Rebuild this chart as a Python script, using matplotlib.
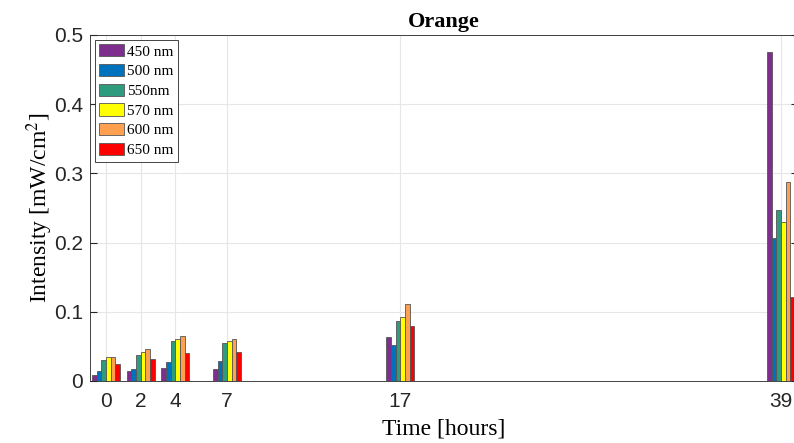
import matplotlib.pyplot as plt
import numpy as np

# Datos
hours = [0, 2, 4, 7, 17, 39]
labels = ['450 nm', '500 nm', '550nm', '570 nm', '600 nm', '650 nm']
colors = ['#7E2F8E', '#0072BD', '#2E9A7E', '#FFFF00', '#FF9F50', '#FF0000']

i450 = [0.008, 0.014, 0.019, 0.018, 0.064, 0.476]
i500 = [0.014, 0.018, 0.028, 0.029, 0.052, 0.207]
i550 = [0.031, 0.037, 0.058, 0.055, 0.087, 0.247]
i570 = [0.034, 0.042, 0.060, 0.058, 0.093, 0.230]
i600 = [0.034, 0.046, 0.065, 0.061, 0.111, 0.288]
i650 = [0.025, 0.032, 0.040, 0.042, 0.079, 0.122]

series = [i450, i500, i550, i570, i600, i650]

plt.rcParams['mathtext.fontset'] = 'stix'

fig = plt.figure(figsize=(7.94, 4.43), dpi=100)
ax = fig.add_axes([0.1134, 0.14, 0.892, 0.781])

x = np.array(hours, dtype=float)
w = 0.27
for i, vals in enumerate(series):
    ax.bar(x + (i - 2.5) * w, vals, width=w, color=colors[i],
           edgecolor='#555555', linewidth=0.6, label=labels[i], zorder=3)

ax.set_xlim(-0.92, 40)
ax.set_ylim(0, 0.5)
ax.set_xticks(hours)
ax.set_yticks([0, 0.1, 0.2, 0.3, 0.4, 0.5])
ax.set_yticklabels(['0', '0.1', '0.2', '0.3', '0.4', '0.5'])
ax.tick_params(direction='in', labelsize=15, colors='#262626', top=False, right=True, length=5)
ax.tick_params(axis='x', pad=8)
ax.tick_params(axis='y', pad=5)
for lab in ax.get_xticklabels() + ax.get_yticklabels():
    lab.set_fontname('Liberation Sans')
ax.grid(True, color='#e6e6e6', linewidth=0.8, zorder=0)
for s in ax.spines.values():
    s.set_color('#262626')
    s.set_linewidth(0.6)

ax.set_xlabel('Time [hours]', fontname='Liberation Serif', fontsize=17, labelpad=5)
ax.set_ylabel('Intensity [mW/cm$^2$]', fontname='Liberation Serif', fontsize=17, labelpad=-1)
ax.set_title('Orange', fontname='Liberation Serif', fontsize=16, fontweight='bold', pad=6)

leg = ax.legend(loc='upper left', prop={'family': 'Liberation Serif', 'size': 11},
                fancybox=False, edgecolor='#262626', framealpha=1,
                handlelength=1.6, handleheight=0.85, handletextpad=0.25,
                labelspacing=0.35, borderpad=0.3, borderaxespad=0.3)
leg.get_frame().set_linewidth(0.6)

plt.savefig('out.png', dpi=100)
